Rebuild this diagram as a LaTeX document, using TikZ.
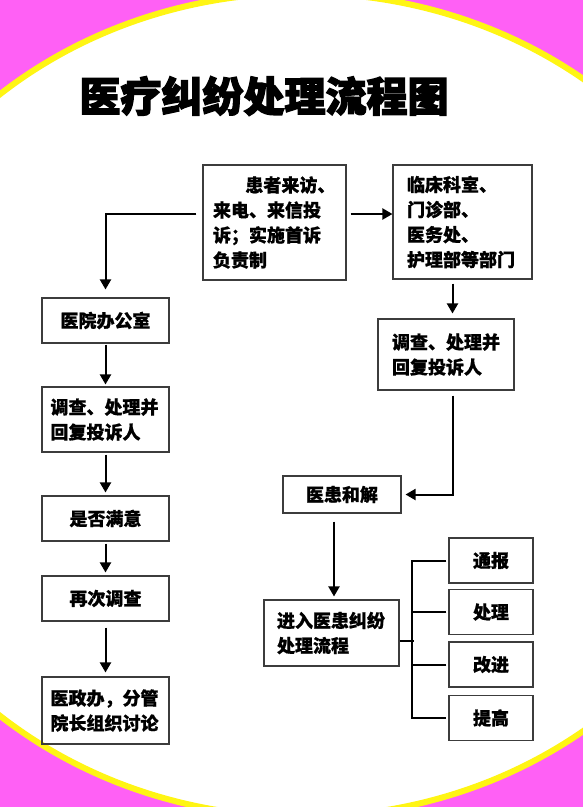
\documentclass[tikz,border=0pt]{standalone}
\usepackage{fontspec}
\setmainfont[BoldFeatures={FakeBold=0.8}]{Noto Sans CJK SC}
\newfontfamily\titlefont[BoldFeatures={FakeBold=3}]{Noto Sans CJK SC}
\usetikzlibrary{arrows.meta}

\definecolor{bgpink}{RGB}{255,96,245}
\definecolor{rimyellow}{RGB}{255,245,20}
\definecolor{boxgray}{RGB}{60,60,60}

\tikzset{
    box/.style={draw=boxgray, line width=1.1pt, inner sep=0pt, minimum height=45pt,
        font=\bfseries\fontsize{18pt}{25pt}\selectfont},
    textbox/.style={box, align=left, text width=#1},
    line/.style={line width=2pt, black},
    arr/.style={line, -{Triangle[width=11pt,length=10pt]}}
}

\begin{document}
\begin{tikzpicture}[x=1pt, y=-1pt]

    % BACKGROUND (pink page, white oval with yellow rim)
    \useasboundingbox (0,0) rectangle (583,807);
    \begin{scope}
        \clip (0,0) rectangle (583,807);
        \fill[bgpink] (0,0) rectangle (583,807);
        \draw[rimyellow, line width=6pt, fill=white] (302,405) ellipse [x radius=460, y radius=412];
    \end{scope}

    % TITLE
    \node (title) at (264,96) {\titlefont\bfseries\fontsize{41pt}{44pt}\selectfont 医疗纠纷处理流程图};

    % 1. TOP ROW
    \node[textbox=123pt, minimum width=143pt, minimum height=115pt] (start) at (274.5,222.5)
        {\hspace*{1.8em}患者来访、\\来电、来信投\\诉；实施首诉\\负责制};
    \node[textbox=111pt, minimum width=139pt, minimum height=114pt] (dept) at (462.5,222)
        {临床科室、\\门诊部、\\医务处、\\护理部等部门};

    % 2. LEFT COLUMN
    \node[box, minimum width=127pt] (office) at (105.5,320.5) {医院办公室};
    \node[textbox=110pt, minimum width=127pt, minimum height=65pt] (checkL) at (105.5,419.5)
        {调查、处理并\\回复投诉人};
    \node[box, minimum width=127pt] (content) at (105.5,518.5) {是否满意};
    \node[box, minimum width=127pt] (again) at (105.5,598.5) {再次调查};
    \node[textbox=110pt, minimum width=127pt, minimum height=67pt] (discuss) at (105.5,710.5)
        {医政办，分管\\院长组织讨论};

    % 3. RIGHT COLUMN
    \node[textbox=108pt, minimum width=136pt, minimum height=71pt] (checkR) at (446,354.5)
        {调查、处理并\\回复投诉人};
    \node[box, minimum width=118pt, minimum height=37pt] (reconcile) at (342,494.5) {医患和解};
    \node[textbox=109pt, minimum width=135pt, minimum height=66pt] (enter) at (331.5,633)
        {进入医患纠纷\\处理流程};

    % 4. FOUR SMALL BOXES
    \node[box, minimum width=84pt] (report) at (491,560.5) {通报};
    \node[box, minimum width=84pt] (handle) at (491,612) {处理};
    \node[box, minimum width=84pt] (improve) at (491,664.5) {改进};
    \node[box, minimum width=84pt] (raise) at (491,718) {提高};

    % CONNECTORS
    \coordinate (s1) at ([yshift=8.5pt,xshift=-6pt]start.west);
    \coordinate (s2) at ([yshift=8.5pt,xshift=4pt]start.east);
    \coordinate (d1) at ([xshift=-10pt,yshift=-4pt]dept.south);
    \coordinate (r1) at ([xshift=-8pt,yshift=-8pt]reconcile.south);

    \draw[arr] (s1) -| ([yshift=8pt]office.north);
    \draw[arr] (s2) -- (s2 -| dept.west);
    \draw[arr] (d1) -- ([yshift=5pt]d1 |- checkR.north);
    \draw[arr] ([xshift=7pt,yshift=-5pt]checkR.south) |- ([xshift=4pt]reconcile.east);
    \draw[arr] (r1) -- ([yshift=3pt]r1 |- enter.north);

    \draw[arr] ([yshift=-1pt]office.south) -- ([yshift=2pt]checkL.north);
    \draw[arr] ([yshift=-2pt]checkL.south) -- ([yshift=3pt]content.north);
    \draw[arr] ([yshift=-2pt]content.south) -- ([yshift=3pt]again.north);
    \draw[arr] ([yshift=-6pt]again.south) -- ([yshift=4pt]discuss.north);

    % BRACKET TO THE SMALL BOXES
    \draw[line] ([yshift=-8pt]enter.east) -- ++(14,0);
    \draw[line] ([xshift=-2pt]report.west) -- ++(-34,0) |- ([xshift=-2pt]raise.west);
    \draw[line] ([xshift=-2pt]handle.west) -- ++(-34,0);
    \draw[line] ([xshift=-2pt]improve.west) -- ++(-34,0);

\end{tikzpicture}
\end{document}
